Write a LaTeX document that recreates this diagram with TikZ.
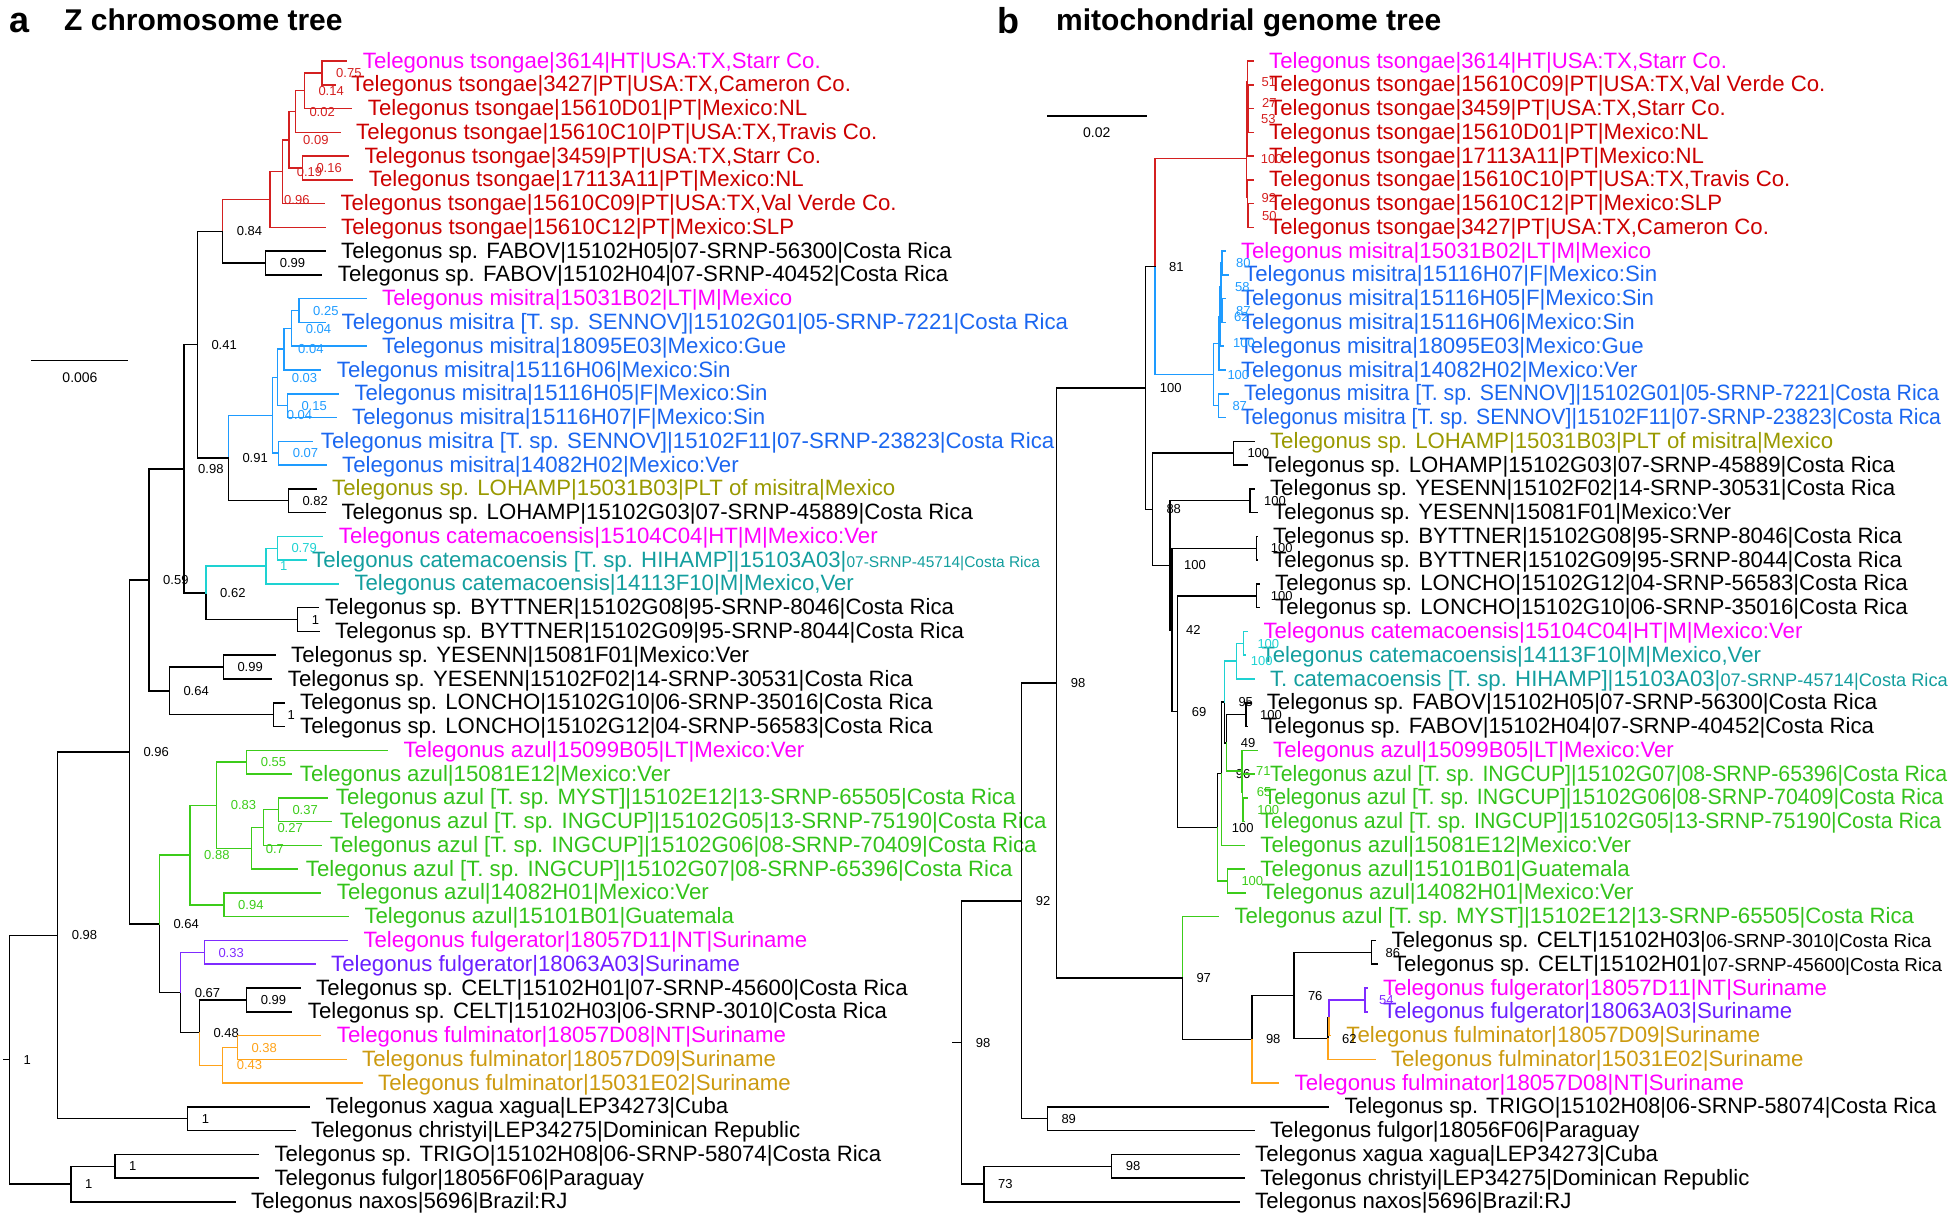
\documentclass[tikz,border=0pt]{standalone}
\usepackage{fontspec}
\setmainfont{Liberation Sans}
\definecolor{tmag}{HTML}{FF00FF}
\definecolor{tred}{HTML}{CC0000}
\definecolor{lred}{HTML}{D42020}
\definecolor{tblue}{HTML}{1A66F0}
\definecolor{lblue}{HTML}{1E9BFF}
\definecolor{tolive}{HTML}{999900}
\definecolor{tteal}{HTML}{139E9E}
\definecolor{lcyan}{HTML}{1ED2D2}
\definecolor{tgreen}{HTML}{33C21A}
\definecolor{lgreen}{HTML}{3CCC1A}
\definecolor{tpurple}{HTML}{6A1FFF}
\definecolor{lpurple}{HTML}{7F2BFF}
\definecolor{tgold}{HTML}{CC9A10}
\definecolor{lorange}{HTML}{FFA31A}
\tikzset{br/.style={line width=1.5pt,line cap=rect}, taxon/.style={anchor=west,inner xsep=16pt,inner ysep=0pt,text height=14pt,text depth=0pt,font=\fontsize{22.2}{22}\selectfont}, bs/.style={inner sep=0pt,text height=9.3pt,text depth=0pt,font=\fontsize{13}{13}\selectfont}, rbs/.style={bs,text=lred}, bbs/.style={bs,text=lblue}, cbs/.style={bs,text=lcyan}, gbs/.style={bs,text=lgreen}, pbs/.style={bs,text=lpurple}, obs/.style={bs,text=lorange}, panel/.style={anchor=base west,inner sep=0pt,font=\bfseries\fontsize{36}{36}\selectfont}, heading/.style={anchor=base west,inner sep=0pt,font=\bfseries\fontsize{30}{30}\selectfont}, scalelab/.style={inner sep=0pt,font=\fontsize{14}{14}\selectfont}}

\begin{document}
\begin{tikzpicture}[x=1pt,y=-1pt,label distance=14pt]
\useasboundingbox (0,0) rectangle (1954,1223);
\node[panel] (pa) at (9,33) {a};
\node[heading] (ha) at (64,31) {Z chromosome tree};
\node[panel] (pb) at (997,34) {b};
\node[heading] (hb) at (1056,31) {mitochondrial genome tree};
% scale bars
\coordinate (zs1) at (32,360.7);
\coordinate (zs2) at (127.7,360.7);
\draw[br] (zs1) -- (zs2);
\node[scalelab] (zsl) at (80,378) {0.006};
\coordinate (ms1) at (1047.3,115.8);
\coordinate (ms2) at (1146,115.8);
\draw[br] (ms1) -- (ms2);
\node[scalelab] (msl) at (1096.7,133) {0.02};

% ---- a: Z chromosome tree, tips ----
\node[taxon,text=tmag] (zt1) at (346.7,61) {Telegonus tsongae|3614|HT|USA:TX,Starr Co.};
\node[taxon,text=tred] (zt2) at (335,84.8) {Telegonus tsongae|3427|PT|USA:TX,Cameron Co.};
\node[taxon,text=tred] (zt3) at (351.7,108.5) {Telegonus tsongae|15610D01|PT|Mexico:NL};
\node[taxon,text=tred] (zt4) at (340,132.3) {Telegonus tsongae|15610C10|PT|USA:TX,Travis Co.};
\node[taxon,text=tred] (zt5) at (348.3,156.1) {Telegonus tsongae|3459|PT|USA:TX,Starr Co.};
\node[taxon,text=tred] (zt6) at (352.7,179.9) {Telegonus tsongae|17113A11|PT|Mexico:NL};
\node[taxon,text=tred] (zt7) at (324.3,203.6) {Telegonus tsongae|15610C09|PT|USA:TX,Val Verde Co.};
\node[taxon,text=tred] (zt8) at (325,227.4) {Telegonus tsongae|15610C12|PT|Mexico:SLP};
\node[taxon] (zt9) at (325,251.2) {Telegonus sp. FABOV|15102H05|07-SRNP-56300|Costa Rica};
\node[taxon] (zt10) at (321.7,274.9) {Telegonus sp. FABOV|15102H04|07-SRNP-40452|Costa Rica};
\node[taxon,text=tmag] (zt11) at (366,298.7) {Telegonus misitra|15031B02|LT|M|Mexico};
\node[taxon,text=tblue] (zt12) at (325.5,322.5) {Telegonus misitra [T. sp. SENNOV]|15102G01|05-SRNP-7221|Costa Rica};
\node[taxon,text=tblue] (zt13) at (366,346.2) {Telegonus misitra|18095E03|Mexico:Gue};
\node[taxon,text=tblue] (zt14) at (320.7,370) {Telegonus misitra|15116H06|Mexico:Sin};
\node[taxon,text=tblue] (zt15) at (338.3,393.8) {Telegonus misitra|15116H05|F|Mexico:Sin};
\node[taxon,text=tblue] (zt16) at (336,417.5) {Telegonus misitra|15116H07|F|Mexico:Sin};
\node[taxon,text=tblue,inner xsep=8pt] (zt17) at (312.7,441.3) {Telegonus misitra [T. sp. SENNOV]|15102F11|07-SRNP-23823|Costa Rica};
\node[taxon,text=tblue] (zt18) at (326,465.1) {Telegonus misitra|14082H02|Mexico:Ver};
\node[taxon,text=tolive] (zt19) at (316,488.8) {Telegonus sp. LOHAMP|15031B03|PLT of misitra|Mexico};
\node[taxon] (zt20) at (325.3,512.6) {Telegonus sp. LOHAMP|15102G03|07-SRNP-45889|Costa Rica};
\node[taxon,text=tmag] (zt21) at (322.7,536.4) {Telegonus catemacoensis|15104C04|HT|M|Mexico:Ver};
\node[taxon,text=tteal,inner xsep=6pt] (zt22) at (306,560.2) {Telegonus catemacoensis [T. sp. HIHAMP]|15103A03|{\fontsize{15.5}{16}\selectfont 07-SRNP-45714|Costa Rica}};
\node[taxon,text=tteal] (zt23) at (338.3,583.9) {Telegonus catemacoensis|14113F10|M|Mexico,Ver};
\node[taxon,inner xsep=7pt] (zt24) at (318,607.7) {Telegonus sp. BYTTNER|15102G08|95-SRNP-8046|Costa Rica};
\node[taxon] (zt25) at (319,631.5) {Telegonus sp. BYTTNER|15102G09|95-SRNP-8044|Costa Rica};
\node[taxon] (zt26) at (275,655.2) {Telegonus sp. YESENN|15081F01|Mexico:Ver};
\node[taxon] (zt27) at (271.7,679) {Telegonus sp. YESENN|15102F02|14-SRNP-30531|Costa Rica};
\node[taxon] (zt28) at (284,702.8) {Telegonus sp. LONCHO|15102G10|06-SRNP-35016|Costa Rica};
\node[taxon] (zt29) at (284,726.5) {Telegonus sp. LONCHO|15102G12|04-SRNP-56583|Costa Rica};
\node[taxon,text=tmag] (zt30) at (387.4,750.3) {Telegonus azul|15099B05|LT|Mexico:Ver};
\node[taxon,text=tgreen,inner xsep=8pt] (zt31) at (291.7,774.1) {Telegonus azul|15081E12|Mexico:Ver};
\node[taxon,text=tgreen,inner xsep=8pt] (zt32) at (327.7,797.8) {Telegonus azul [T. sp. MYST]|15102E12|13-SRNP-65505|Costa Rica};
\node[taxon,text=tgreen,inner xsep=8pt] (zt33) at (331.7,821.6) {Telegonus azul [T. sp. INGCUP]|15102G05|13-SRNP-75190|Costa Rica};
\node[taxon,text=tgreen,inner xsep=8pt] (zt34) at (321.7,845.4) {Telegonus azul [T. sp. INGCUP]|15102G06|08-SRNP-70409|Costa Rica};
\node[taxon,text=tgreen,inner xsep=8pt] (zt35) at (297.7,869.2) {Telegonus azul [T. sp. INGCUP]|15102G07|08-SRNP-65396|Costa Rica};
\node[taxon,text=tgreen] (zt36) at (320.7,892.9) {Telegonus azul|14082H01|Mexico:Ver};
\node[taxon,text=tgreen] (zt37) at (348.3,916.7) {Telegonus azul|15101B01|Guatemala};
\node[taxon,text=tmag] (zt38) at (347.3,940.5) {Telegonus fulgerator|18057D11|NT|Suriname};
\node[taxon,text=tpurple] (zt39) at (315,964.2) {Telegonus fulgerator|18063A03|Suriname};
\node[taxon] (zt40) at (300,988) {Telegonus sp. CELT|15102H01|07-SRNP-45600|Costa Rica};
\node[taxon] (zt41) at (291.7,1011.8) {Telegonus sp. CELT|15102H03|06-SRNP-3010|Costa Rica};
\node[taxon,text=tmag] (zt42) at (320.7,1035.5) {Telegonus fulminator|18057D08|NT|Suriname};
\node[taxon,text=tgold] (zt43) at (346,1059.3) {Telegonus fulminator|18057D09|Suriname};
\node[taxon,text=tgold] (zt44) at (362,1083.1) {Telegonus fulminator|15031E02|Suriname};
\node[taxon] (zt45) at (309.3,1106.8) {Telegonus xagua xagua|LEP34273|Cuba};
\node[taxon] (zt46) at (295,1130.6) {Telegonus christyi|LEP34275|Dominican Republic};
\node[taxon] (zt47) at (258.3,1154.4) {Telegonus sp. TRIGO|15102H08|06-SRNP-58074|Costa Rica};
\node[taxon] (zt48) at (258.3,1178.1) {Telegonus fulgor|18056F06|Paraguay};
\node[taxon] (zt49) at (235,1201.9) {Telegonus naxos|5696|Brazil:RJ};
% internal nodes
\coordinate[label={[rbs]right:0.75}] (za1) at (322,72.9);
\coordinate[label={[rbs]right:0.14}] (za2) at (304.3,90.7);
\coordinate[label={[rbs]right:0.02}] (za3) at (295.3,111.5);
\coordinate[label={[rbs]right:0.09}] (za4) at (289,139.75);
\coordinate[label={[rbs]right:0.16}] (za5) at (302.3,168);
\coordinate[label={[rbs]right:0.19}] (za6) at (282.7,171.7);
\coordinate[label={[rbs]right:0.96}] (za7) at (270,199.55);
\coordinate[label={[bs]right:0.99}] (zfab) at (265.7,263.05);
\coordinate[label={[bs]right:0.84}] (zn1) at (222.7,231.3);
\coordinate[label={[bbs]right:0.25}] (zb1) at (299,310.6);
\coordinate[label={[bbs]right:0.04}] (zb2) at (291.7,328.4);
\coordinate[label={[bbs]right:0.04}] (zb3) at (284,349.2);
\coordinate[label={[bbs]right:0.15}] (zb4) at (287.3,405.65);
\coordinate[label={[bbs]right:0.03}] (zb5) at (277.7,377.4);
\coordinate[label={[bbs]right:0.07}] (zb6) at (278.7,453.2);
\coordinate[label={[bbs]right:0.04}] (zb7) at (272.7,415.3);
\coordinate[label={[bs]right:0.82}] (zloh) at (288.3,500.7);
\coordinate[label={[bs]right:0.91}] (zn2) at (228.3,458);
\coordinate[label={[bs]right:0.41}] (zn3) at (197.3,344.65);
\coordinate[label={[cbs]right:0.79}] (zk1) at (277.3,548.3);
\coordinate[label={[cbs]right:1}] (zk2) at (266,566.1);
\coordinate[label={[bs]right:1}] (zbyt) at (297.7,619.6);
\coordinate[label={[bs]right:0.62}] (zn4) at (206,592.85);
\coordinate[label={[bs]right:0.98}] (zn5) at (184,468.75);
\coordinate[label={[bs]right:0.99}] (zyes) at (223.3,667.1);
\coordinate[label={[bs]right:1}] (zlon) at (273.3,714.65);
\coordinate[label={[bs]right:0.64}] (zn6) at (169.3,690.9);
\coordinate[label={[bs]right:0.59}] (zn7) at (149,579.8);
\coordinate[label={[gbs]right:0.55}] (zg1) at (246.7,762.2);
\coordinate[label={[gbs]right:0.37}] (zg2) at (278.3,809.7);
\coordinate[label={[gbs]right:0.27}] (zg3) at (263.3,827.55);
\coordinate[label={[gbs]right:0.7}] (zg4) at (251.7,848.4);
\coordinate[label={[gbs]right:0.83}] (zg5) at (216.7,805.3);
\coordinate[label={[gbs]right:0.94}] (zg6) at (224,904.8);
\coordinate[label={[gbs]right:0.88}] (zg7) at (190,855.05);
\coordinate[label={[pbs]right:0.33}] (zfg) at (204.3,952.35);
\coordinate[label={[bs]right:0.99}] (zcelt) at (246.7,999.9);
\coordinate[label={[obs]right:0.38}] (zu1) at (237.3,1047.4);
\coordinate[label={[obs]right:0.43}] (zu2) at (222.7,1065.25);
\coordinate[label={[bs]right:0.48}] (zn8) at (199.3,1032.6);
\coordinate[label={[bs]right:0.67}] (zn9) at (180.7,992.5);
\coordinate[label={[bs]right:0.64}] (zn10) at (159.3,923.8);
\coordinate[label={[bs]right:0.96}] (zn11) at (129.3,751.8);
\coordinate[label={[bs]right:1}] (zxag) at (187.7,1118.7);
\coordinate[label={[bs]right:0.98}] (zn12) at (57.7,935.25);
\coordinate[label={[bs]right:1}] (zout1) at (115,1166.25);
\coordinate[label={[bs]right:1}] (zout2) at (71,1184.1);
\coordinate[label={[bs]right:1}] (zroot) at (9.3,1059.7);
\coordinate (zstem) at (3.3,1059.7);
% branches
\draw[br,draw=lred] (zn1) |- (za7) (za7) |- (za6) (za7) |- (zt8.west) (za6) |- (za4) (za6) |- (zt7.west) (za4) |- (za3) (za4) |- (za5) (za3) |- (za2) (za3) |- (zt4.west) (za2) |- (za1) (za2) |- (zt3.west) (za1) |- (zt1.west) (za1) |- (zt2.west) (za5) |- (zt5.west) (za5) |- (zt6.west);
\draw[br] (zn1) |- (zfab) (zfab) |- (zt9.west) (zfab) |- (zt10.west);
\draw[br,draw=lblue] (zn2) |- (zb7) (zb7) |- (zb5) (zb7) |- (zb6) (zb5) |- (zb3) (zb5) |- (zb4) (zb3) |- (zb2) (zb3) |- (zt14.west) (zb2) |- (zb1) (zb2) |- (zt13.west) (zb1) |- (zt11.west) (zb1) |- (zt12.west) (zb4) |- (zt15.west) (zb4) |- (zt16.west) (zb6) |- (zt17.west) (zb6) |- (zt18.west);
\draw[br] (zn2) |- (zloh) (zloh) |- (zt19.west) (zloh) |- (zt20.west) (zn3) |- (zn1) (zn3) |- (zn2) (zn5) |- (zn3) (zn5) |- (zn4) (zn4) |- (zbyt) (zbyt) |- (zt24.west) (zbyt) |- (zt25.west);
\draw[br,draw=lcyan] (zn4) |- (zk2) (zk2) |- (zk1) (zk2) |- (zt23.west) (zk1) |- (zt21.west) (zk1) |- (zt22.west);
\draw[br] (zn7) |- (zn5) (zn7) |- (zn6) (zn6) |- (zyes) (zn6) |- (zlon) (zyes) |- (zt26.west) (zyes) |- (zt27.west) (zlon) |- (zt28.west) (zlon) |- (zt29.west) (zn11) |- (zn7) (zn11) |- (zn10) (zn10) |- (zn9) (zn9) |- (zn8) (zn8) |- (zcelt) (zcelt) |- (zt40.west) (zcelt) |- (zt41.west);
\draw[br,draw=lgreen] (zn10) |- (zg7) (zg7) |- (zg5) (zg7) |- (zg6) (zg5) |- (zg1) (zg5) |- (zg4) (zg1) |- (zt30.west) (zg1) |- (zt31.west) (zg4) |- (zg3) (zg4) |- (zt35.west) (zg3) |- (zg2) (zg3) |- (zt34.west) (zg2) |- (zt32.west) (zg2) |- (zt33.west) (zg6) |- (zt36.west) (zg6) |- (zt37.west);
\draw[br,draw=lpurple] (zn9) |- (zfg) (zfg) |- (zt38.west) (zfg) |- (zt39.west);
\draw[br,draw=lorange] (zn8) |- (zu2) (zu2) |- (zu1) (zu2) |- (zt44.west) (zu1) |- (zt42.west) (zu1) |- (zt43.west);
\draw[br] (zn12) |- (zn11) (zn12) |- (zxag) (zxag) |- (zt45.west) (zxag) |- (zt46.west) (zroot) |- (zn12) (zroot) |- (zout2) (zout2) |- (zout1) (zout2) |- (zt49.west) (zout1) |- (zt47.west) (zout1) |- (zt48.west) (zstem) -- (zroot);

% ---- b: mitochondrial genome tree, tips ----
\node[taxon,text=tmag] (mt1) at (1253,61) {Telegonus tsongae|3614|HT|USA:TX,Starr Co.};
\node[taxon,text=tred] (mt2) at (1253,84.8) {Telegonus tsongae|15610C09|PT|USA:TX,Val Verde Co.};
\node[taxon,text=tred] (mt3) at (1253,108.5) {Telegonus tsongae|3459|PT|USA:TX,Starr Co.};
\node[taxon,text=tred] (mt4) at (1253,132.3) {Telegonus tsongae|15610D01|PT|Mexico:NL};
\node[taxon,text=tred] (mt5) at (1253,156.1) {Telegonus tsongae|17113A11|PT|Mexico:NL};
\node[taxon,text=tred] (mt6) at (1253,179.9) {Telegonus tsongae|15610C10|PT|USA:TX,Travis Co.};
\node[taxon,text=tred] (mt7) at (1253,203.6) {Telegonus tsongae|15610C12|PT|Mexico:SLP};
\node[taxon,text=tred] (mt8) at (1253,227.4) {Telegonus tsongae|3427|PT|USA:TX,Cameron Co.};
\node[taxon,text=tmag] (mt9) at (1224.8,251.2) {Telegonus misitra|15031B02|LT|M|Mexico};
\node[taxon,text=tblue] (mt10) at (1228,274.9) {Telegonus misitra|15116H07|F|Mexico:Sin};
\node[taxon,text=tblue] (mt11) at (1224.8,298.7) {Telegonus misitra|15116H05|F|Mexico:Sin};
\node[taxon,text=tblue] (mt12) at (1224.8,322.5) {Telegonus misitra|15116H06|Mexico:Sin};
\node[taxon,text=tblue] (mt13) at (1223.5,346.2) {Telegonus misitra|18095E03|Mexico:Gue};
\node[taxon,text=tblue] (mt14) at (1224.8,370) {Telegonus misitra|14082H02|Mexico:Ver};
\node[taxon,text=tblue] (mt15) at (1228,393.8) {\resizebox{695pt}{\height}{Telegonus misitra [T. sp. SENNOV]|15102G01|05-SRNP-7221|Costa Rica}};
\node[taxon,text=tblue] (mt16) at (1224.8,417.5) {\resizebox{700pt}{\height}{Telegonus misitra [T. sp. SENNOV]|15102F11|07-SRNP-23823|Costa Rica}};
\node[taxon,text=tolive] (mt17) at (1253.9,441.3) {Telegonus sp. LOHAMP|15031B03|PLT of misitra|Mexico};
\node[taxon] (mt18) at (1247.4,465.1) {Telegonus sp. LOHAMP|15102G03|07-SRNP-45889|Costa Rica};
\node[taxon] (mt19) at (1253.9,488.8) {Telegonus sp. YESENN|15102F02|14-SRNP-30531|Costa Rica};
\node[taxon] (mt20) at (1257,512.6) {Telegonus sp. YESENN|15081F01|Mexico:Ver};
\node[taxon] (mt21) at (1257,536.4) {Telegonus sp. BYTTNER|15102G08|95-SRNP-8046|Costa Rica};
\node[taxon] (mt22) at (1257,560.2) {Telegonus sp. BYTTNER|15102G09|95-SRNP-8044|Costa Rica};
\node[taxon] (mt23) at (1259,583.9) {Telegonus sp. LONCHO|15102G12|04-SRNP-56583|Costa Rica};
\node[taxon] (mt24) at (1259,607.7) {Telegonus sp. LONCHO|15102G10|06-SRNP-35016|Costa Rica};
\node[taxon,text=tmag] (mt25) at (1247.4,631.5) {Telegonus catemacoensis|15104C04|HT|M|Mexico:Ver};
\node[taxon,text=tteal] (mt26) at (1245.5,655.2) {Telegonus catemacoensis|14113F10|M|Mexico,Ver};
\node[taxon,text=tteal] (mt27) at (1253.9,679) {T. catemacoensis [T. sp. HIHAMP]|15103A03|{\fontsize{18.2}{19}\selectfont 07-SRNP-45714|Costa Rica}};
\node[taxon] (mt28) at (1250.6,702.8) {Telegonus sp. FABOV|15102H05|07-SRNP-56300|Costa Rica};
\node[taxon] (mt29) at (1247.4,726.5) {Telegonus sp. FABOV|15102H04|07-SRNP-40452|Costa Rica};
\node[taxon,text=tmag] (mt30) at (1257,750.3) {Telegonus azul|15099B05|LT|Mexico:Ver};
\node[taxon,text=tgreen] (mt31) at (1253.9,774.1) {\resizebox{677pt}{\height}{Telegonus azul [T. sp. INGCUP]|15102G07|08-SRNP-65396|Costa Rica}};
\node[taxon,text=tgreen] (mt32) at (1247.4,797.8) {\resizebox{680pt}{\height}{Telegonus azul [T. sp. INGCUP]|15102G06|08-SRNP-70409|Costa Rica}};
\node[taxon,text=tgreen] (mt33) at (1244.2,821.6) {\resizebox{681pt}{\height}{Telegonus azul [T. sp. INGCUP]|15102G05|13-SRNP-75190|Costa Rica}};
\node[taxon,text=tgreen] (mt34) at (1244.2,845.4) {Telegonus azul|15081E12|Mexico:Ver};
\node[taxon,text=tgreen] (mt35) at (1244.2,869.2) {Telegonus azul|15101B01|Guatemala};
\node[taxon,text=tgreen] (mt36) at (1245.5,892.9) {Telegonus azul|14082H01|Mexico:Ver};
\node[taxon,text=tgreen] (mt37) at (1218.3,916.7) {Telegonus azul [T. sp. MYST]|15102E12|13-SRNP-65505|Costa Rica};
\node[taxon] (mt38) at (1375.5,940.5) {Telegonus sp. CELT|15102H03|{\fontsize{18.9}{19}\selectfont 06-SRNP-3010|Costa Rica}};
\node[taxon] (mt39) at (1376.8,964.2) {Telegonus sp. CELT|15102H01|{\fontsize{18.8}{19}\selectfont 07-SRNP-45600|Costa Rica}};
\node[taxon,text=tmag] (mt40) at (1367,988) {Telegonus fulgerator|18057D11|NT|Suriname};
\node[taxon,text=tpurple] (mt41) at (1367,1011.8) {Telegonus fulgerator|18063A03|Suriname};
\node[taxon,text=tgold] (mt42) at (1330.2,1035.5) {Telegonus fulminator|18057D09|Suriname};
\node[taxon,text=tgold] (mt43) at (1374.8,1059.3) {Telegonus fulminator|15031E02|Suriname};
\node[taxon,text=tmag] (mt44) at (1278.5,1083.1) {Telegonus fulminator|18057D08|NT|Suriname};
\node[taxon] (mt45) at (1328.3,1106.8) {\resizebox{592pt}{\height}{Telegonus sp. TRIGO|15102H08|06-SRNP-58074|Costa Rica}};
\node[taxon] (mt46) at (1253.9,1130.6) {Telegonus fulgor|18056F06|Paraguay};
\node[taxon] (mt47) at (1239,1154.4) {Telegonus xagua xagua|LEP34273|Cuba};
\node[taxon] (mt48) at (1244.2,1178.1) {Telegonus christyi|LEP34275|Dominican Republic};
\node[taxon] (mt49) at (1239,1201.9) {Telegonus naxos|5696|Brazil:RJ};
% internal nodes
\coordinate[label={[rbs]right:100}] (mr0) at (1246.7,158.4);
\coordinate[label={[rbs]right:53}] (mr1) at (1247,119);
\coordinate[label={[rbs]right:51}] (mr2) at (1247.5,81.8);
\coordinate[label={[rbs]right:27}] (mr3) at (1248,102.6);
\coordinate (mr4) at (1248.5,120.4);
\coordinate[label={[rbs]right:92}] (mr5) at (1247.5,197.7);
\coordinate[label={[rbs]right:50}] (mr6) at (1248,215.5);
\coordinate[label={[bbs]right:100}] (mb0) at (1213.3,374.5);
\coordinate[label={[bbs]right:100}] (mb1) at (1219,343.3);
\coordinate[label={[bbs]right:62}] (mb2) at (1220,316.5);
\coordinate[label={[bbs]right:58}] (mb3) at (1221,286.8);
\coordinate[label={[bbs]right:80}] (mb4) at (1222,263.1);
\coordinate[label={[bbs]right:87}] (mb5) at (1222,310.6);
\coordinate[label={[bbs]right:87}] (mb6) at (1218.3,405.7);
\coordinate[label={[bs]right:81}] (mn81) at (1155,266.5);
\coordinate[label={[bs]right:100}] (mn100a) at (1145.7,387.9);
\coordinate[label={[bs]right:88}] (mn88) at (1152.3,509.3);
\coordinate[label={[bs]right:100}] (mloh) at (1233.3,453.2);
\coordinate[label={[bs]right:100}] (mn100b) at (1170,565.3);
\coordinate[label={[bs]right:100}] (myes) at (1250,500.7);
\coordinate[label={[bs]right:42}] (mn42) at (1172,630);
\coordinate[label={[bs]right:100}] (mbyt) at (1256.7,548.3);
\coordinate[label={[bs]right:69}] (mn69) at (1177.7,711.6);
\coordinate[label={[bs]right:100}] (mlon) at (1256.7,595.9);
\coordinate[label={[bs]right:100}] (mnx) at (1217.7,827.4);
\coordinate[label={[bs]right:96}] (mn96) at (1221.7,773.7);
\coordinate[label={[bs]right:95}] (mny) at (1224.3,702);
\coordinate[label={[cbs]right:100}] (mcat) at (1236.7,661.2);
\coordinate[label={[cbs]right:100}] (mk) at (1243.3,643.4);
\coordinate[label={[bs]right:49}] (mn95) at (1226.7,742.9);
\coordinate[label={[bs]right:100}] (mfab) at (1246,714.7);
\coordinate[label={[gbs]right:71}] (mg49) at (1242,771.1);
\coordinate[label={[gbs]right:65}] (mg71) at (1242.7,791.9);
\coordinate[label={[gbs]right:100}] (mg100) at (1243.2,809.7);
\coordinate[label={[gbs]right:100}] (maz) at (1227.3,881.1);
\coordinate[label={[bs]right:97}] (mn97) at (1182.3,978);
\coordinate[label={[bs]right:98}] (mn98d) at (1251.8,1039.3);
\coordinate[label={[bs]right:76}] (mn76) at (1293.8,995.4);
\coordinate[label={[bs]right:86}] (mcelt) at (1371.4,952.4);
\coordinate[label={[bs]right:62}] (mng2) at (1328,1038.5);
\coordinate (mnp) at (1329,1017.7);
\coordinate[label={[pbs]right:54}] (mfg) at (1365,999.9);
\coordinate[label={[bs]right:98}] (mn98b) at (1056.7,683);
\coordinate[label={[bs]right:92}] (mn92) at (1021.7,900.8);
\coordinate[label={[bs]right:89}] (mn89) at (1047.3,1118.7);
\coordinate[label={[bs]right:98}] (mroot) at (961.7,1042.5);
\coordinate[label={[bs]right:73}] (mn73) at (984,1184.1);
\coordinate[label={[bs]right:98}] (mn98c) at (1111.7,1166.3);
\coordinate (mstem) at (952.7,1042.5);
% branches
\draw[br,draw=lred] (mn81) |- (mr0) (mr0) |- (mr1) (mr0) |- (mr5) (mr1) |- (mr2) (mr1) |- (mt5.west) (mr2) |- (mt1.west) (mr2) |- (mr3) (mr3) |- (mt2.west) (mr3) |- (mr4) (mr4) |- (mt3.west) (mr4) |- (mt4.west) (mr5) |- (mt6.west) (mr5) |- (mr6) (mr6) |- (mt7.west) (mr6) |- (mt8.west);
\draw[br,draw=lblue] (mn81) |- (mb0) (mb0) |- (mb1) (mb0) |- (mb6) (mb1) |- (mb2) (mb1) |- (mt14.west) (mb2) |- (mb3) (mb2) |- (mt13.west) (mb3) |- (mb4) (mb3) |- (mb5) (mb4) |- (mt9.west) (mb4) |- (mt10.west) (mb5) |- (mt11.west) (mb5) |- (mt12.west) (mb6) |- (mt15.west) (mb6) |- (mt16.west);
\draw[br] (mn100a) |- (mn81) (mn100a) |- (mn88) (mn88) |- (mloh) (mloh) |- (mt17.west) (mloh) |- (mt18.west) (mn88) |- (mn100b) (mn100b) |- (myes) (myes) |- (mt19.west) (myes) |- (mt20.west) (mn100b) |- (mn42) (mn42) |- (mbyt) (mbyt) |- (mt21.west) (mbyt) |- (mt22.west) (mn42) |- (mn69) (mn69) |- (mlon) (mlon) |- (mt23.west) (mlon) |- (mt24.west) (mn69) |- (mnx) (mnx) |- (mn96) (mn96) |- (mny) (mny) |- (mn95) (mn95) |- (mfab) (mfab) |- (mt28.west) (mfab) |- (mt29.west);
\draw[br,draw=lcyan] (mny) |- (mcat) (mcat) |- (mk) (mcat) |- (mt27.west) (mk) |- (mt25.west) (mk) |- (mt26.west);
\draw[br,draw=lgreen] (mn95) |- (mg49) (mg49) |- (mt30.west) (mg49) |- (mg71) (mg71) |- (mt31.west) (mg71) |- (mg100) (mg100) |- (mt32.west) (mg100) |- (mt33.west) (mn96) |- (mt34.west) (mnx) |- (maz) (maz) |- (mt35.west) (maz) |- (mt36.west) (mn97) |- (mt37.west);
\draw[br] (mn98b) |- (mn100a) (mn98b) |- (mn97) (mn97) |- (mn98d) (mn98d) |- (mn76) (mn76) |- (mcelt) (mcelt) |- (mt38.west) (mcelt) |- (mt39.west) (mn76) |- (mng2) (mng2) |- (mnp);
\draw[br,draw=lpurple] (mnp) |- (mfg) (mfg) |- (mt40.west) (mfg) |- (mt41.west);
\draw[br,draw=lorange] (mnp) |- (mt42.west) (mng2) |- (mt43.west) (mn98d) |- (mt44.west);
\draw[br] (mn92) |- (mn98b) (mn92) |- (mn89) (mn89) |- (mt45.west) (mn89) |- (mt46.west) (mroot) |- (mn92) (mroot) |- (mn73) (mn73) |- (mn98c) (mn98c) |- (mt47.west) (mn98c) |- (mt48.west) (mn73) |- (mt49.west) (mstem) -- (mroot);
\end{tikzpicture}
\end{document}
